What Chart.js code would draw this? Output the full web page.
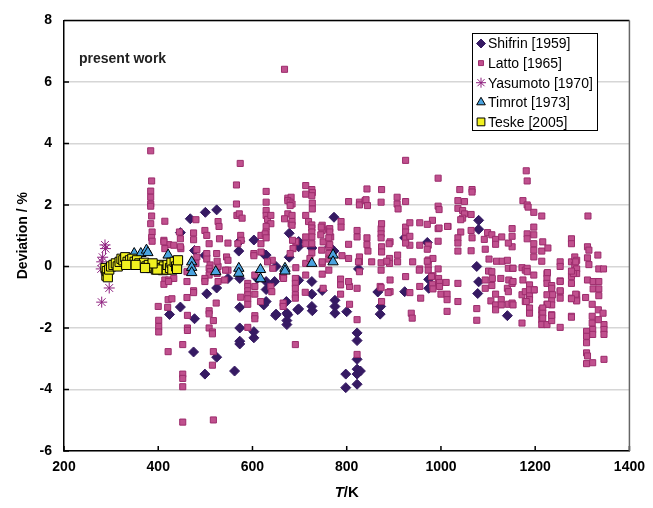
<!DOCTYPE html>
<html>
<head>
<meta charset="utf-8">
<script src="https://cdn.jsdelivr.net/npm/chart.js@4"></script>
<style>
  html, body { margin: 0; padding: 0; background: #fff; }
  #wrap { width: 653px; height: 508px; }
</style>
</head>
<body>
<div id="wrap"><canvas id="devChart"></canvas></div>
<script>
// ====== DATA: [T / K, deviation / %] ======
const shifrin = [
  [447, 1.1], [468, 1.55], [500, 1.76], [524, 1.84], [477, 0.52], [499, 0.36], [571, 0.5], [573, 0.82],
  [603, 0.86], [629, 0.37], [625, 0.39], [548, -0.39], [524, -0.7], [573, -0.39], [610, -0.39], [503, -0.89],
  [447, -1.32], [424, -1.56], [573, -1.33], [477, -1.7], [573, -2.0], [573, -2.43], [573, -2.52], [603, -2.12],
  [603, -2.32], [475, -2.78], [524, -2.95], [499, -3.5], [562, -3.4], [629, -0.49], [629, -0.75],
  [678, 1.08], [698, 0.81], [698, 0.64], [726, 0.6], [764, 0.64], [773, 1.6], [773, 0.5], [678, 0.3],
  [650, 0.0], [825, -0.08], [647, -0.49], [698, -0.45], [726, -0.49], [726, -0.9], [748, -0.78], [672, -1.14],
  [698, -1.38], [726, -1.3], [775, -1.1], [775, -1.3], [775, -1.52], [800, -1.47], [871, -1.55], [866, -0.83],
  [650, -1.55], [675, -1.57], [624, -1.25], [629, -1.14], [649, -1.59], [673, -1.52], [673, -1.76], [673, -1.89],
  [696, -1.41], [727, -1.44], [822, -2.16], [822, -2.41], [822, -3.02], [822, -3.34], [822, -3.5], [822, -3.83],
  [798, -3.5], [798, -3.94], [829, -3.4], [872, -1.3], [923, -0.82], [923, 0.93], [971, 0.78], [974, -0.42],
  [974, -0.71], [1080, 1.5], [1080, 1.21], [1076, 0.0], [1080, -0.5], [1078, -0.88], [1141, -1.6]
];

const latto = [
  [668, 6.41], [384, 3.76], [925, 3.45], [574, 3.35], [994, 2.87], [1181, 3.11], [1183, 2.78], [386, 2.78],
  [566, 2.65], [874, 2.5], [843, 2.52], [1040, 2.5], [1066, 2.5], [1066, 2.42],
  [384, 2.45], [384, 2.25], [384, 2.03], [384, 1.96], [386, 1.64], [384, 1.39], [387, 1.12], [386, 0.94],
  [387, 0.82], [414, 1.47], [412, 0.85], [422, 0.71], [414, 0.58], [433, 0.69], [412, 0.8], [414, -0.44],
  [422, -0.44], [412, -0.58], [433, -0.39], [422, -0.49], [421, -1.08], [429, -1.05], [400, -1.3], [420, -1.33],
  [401, -1.75], [401, -1.95], [401, -2.13], [421, -2.77],
  [445, 1.12], [447, 0.9], [448, 0.58], [447, 0.64], [475, 1.09], [475, 0.87], [480, 1.52], [482, 0.55],
  [482, 0.31], [480, 0.1], [499, 1.17], [503, 1.01], [508, 0.74], [503, 0.42], [503, 0.24], [527, 1.46],
  [529, 1.3], [530, 0.9], [548, 0.76], [524, 0.42], [545, 0.31], [548, 0.2], [548, -0.12], [510, 0.05],
  [508, -0.06], [510, -0.17], [508, -0.28], [461, -0.17], [461, -0.49], [499, -0.39], [499, -0.49], [527, -0.49],
  [527, 0.0], [525, -0.23], [525, 0.17], [543, -0.12], [541, -0.44], [475, -0.79], [461, -1.01], [475, -0.85],
  [462, -1.59], [462, -2.0], [462, -2.08], [508, -1.44], [508, -1.54], [517, -1.76], [508, -2.0], [515, -2.13],
  [515, -2.19], [523, -1.19], [452, -2.54], [517, -2.77], [515, -3.21], [452, -3.5], [452, -3.64], [452, -3.91],
  [452, -5.06], [517, -4.99],
  [566, 2.03], [567, 1.66], [572, 1.71], [578, 1.57], [575, 1.01], [576, 0.85], [569, 0.74], [603, 0.42],
  [605, -0.28], [590, -0.55], [575, -1.0], [590, -0.65], [590, -0.79], [590, -0.92], [590, -1.05], [590, -1.23],
  [605, -0.9], [605, -1.6], [605, -1.7], [590, -1.98], [605, -0.65], [617, -1.14],
  [629, 2.44], [629, 2.09], [629, 1.82], [629, 1.66], [632, 1.53], [639, 1.66], [639, 1.39], [629, 1.3],
  [629, 1.12], [618, 1.01], [618, 0.74], [618, 0.47], [603, 0.35], [642, 0.2], [632, 0.15], [643, -0.06],
  [639, -0.65], [641, -0.82], [664, -0.33], [665, -1.19], [665, -1.3], [627, 1.06], [629, 0.93], [666, -0.28],
  [666, -0.39],
  [675, 2.22], [682, 2.25], [675, 2.14], [680, 2.09], [684, 2.03], [680, 1.98], [675, 1.71], [684, 1.66],
  [668, 1.55], [682, 1.39], [684, 1.46], [684, 1.34], [692, 0.8], [686, 0.58], [685, 0.85], [680, 0.42],
  [692, -0.04], [691, -0.39], [691, -0.55], [691, -0.71], [691, -0.92], [691, -1.03], [691, -2.54],
  [713, 2.63], [726, 2.5], [727, 2.4], [713, 2.35], [726, 2.3], [727, 2.06], [727, 1.87], [713, 1.66],
  [719, 1.46], [726, 1.35], [726, 1.25], [726, 1.12], [726, 0.96], [713, 0.96], [713, 0.74], [726, 0.74],
  [726, 0.44], [748, 1.34], [748, 1.17], [762, 1.21], [766, 0.96], [762, 0.64], [750, 0.8], [747, 0.53],
  [764, 1.23], [764, 1.12], [762, 0.93], [764, 0.71], [788, 1.46], [788, 1.28], [746, 1.28], [745, 1.03],
  [748, 0.1], [790, 0.35], [762, 0.42], [748, 0.15], [762, 0.24], [762, -0.12], [748, -0.25], [787, -0.41],
  [787, -0.6], [787, -0.9], [750, -0.71], [712, -0.84], [713, -0.28], [713, 0.1], [722, 0.26],
  [804, 2.11], [827, 2.09], [827, 2.0], [839, 2.14], [841, 2.17], [844, 1.98], [873, 2.09], [873, 1.23],
  [874, 1.39], [873, 1.06], [873, 0.93], [874, 0.64], [874, 0.47], [873, 0.12], [873, -0.12], [892, 0.8],
  [891, 0.26], [891, 0.1], [890, 0.74], [822, 1.17], [822, 0.96], [843, 0.93], [843, 0.71], [845, 0.5],
  [827, 0.31], [827, 0.15], [827, -0.17], [804, 0.72], [804, 0.26], [825, 0.15], [853, 0.15], [885, 0.17],
  [892, -0.44], [806, -0.65], [806, -1.23], [822, -0.71], [822, -1.73], [822, -2.86], [804, -0.49], [871, -0.65],
  [874, -1.14], [892, -0.82], [873, -0.69], [888, -0.85],
  [907, 2.25], [907, 2.03], [909, 1.87], [925, 2.11], [994, 1.96], [996, 1.85], [925, 1.28], [925, 1.12],
  [934, 1.42], [925, 0.9], [934, 0.69], [925, -0.33], [955, 1.42], [955, 0.69], [955, -0.08], [973, 0.69],
  [973, 0.21], [973, 0.05], [973, -0.12], [982, 1.5], [983, 0.26], [983, -0.3], [994, 1.23], [994, 0.82],
  [994, -0.08], [995, -0.39], [908, 0.37], [908, 0.15], [971, 1.37], [996, 1.25], [1015, 1.3], [925, 0.76],
  [934, 0.98], [971, 0.56], [940, 0.15], [954, -0.12], [980, -0.33], [997, -0.52], [955, -0.65], [957, -1.03],
  [982, -0.58], [983, -0.73], [997, -0.65], [937, -1.52], [939, -1.68], [934, -0.85], [1000, -0.9], [971, 0.17],
  [1036, 2.14], [1050, 2.11], [1036, 1.89], [1046, 1.82], [1050, 1.71], [1046, 1.57], [1042, 1.52], [1064, 1.69],
  [1014, 1.3], [1042, 1.12], [1036, 0.93], [1036, 0.76], [1036, 0.5], [1064, 1.17], [1066, 0.93], [1064, 0.51],
  [1099, 1.1], [1108, 1.03], [1092, 0.88], [1116, 0.88], [1116, 0.72], [1129, 0.96], [1094, 0.56], [1151, 1.23],
  [1151, 0.98], [1151, 0.64], [1143, 0.76], [1102, 0.24], [1118, 0.17], [1130, 0.17], [1141, 0.2], [1101, -0.15],
  [1108, -0.17], [1094, -0.44], [1109, -0.39], [1127, -0.39], [1143, -0.06], [1144, -0.44], [1152, -0.06],
  [1013, -0.9], [1013, -1.08], [1013, -1.46], [1036, -0.55], [1036, -1.14], [1076, -1.37], [1076, -1.75],
  [1094, -0.71], [1108, -0.62], [1116, -0.9], [1106, -1.12], [1116, -1.25], [1116, -1.41], [1128, -1.08],
  [1128, -1.25], [1141, -0.71], [1143, -0.82], [1143, -1.23], [1151, -1.19], [1151, -0.55], [1011, -0.52],
  [1153, -0.49],
  [1174, 2.14], [1183, 2.0], [1185, 1.93], [1197, 1.76], [1214, 1.64], [1312, 1.64], [1183, 1.06], [1183, 0.9],
  [1197, 1.28], [1197, 1.03], [1197, 0.74], [1197, 0.53], [1197, 0.31], [1216, 0.8], [1214, 0.5], [1214, 0.17],
  [1227, 0.6], [1172, -0.04], [1179, -0.12], [1197, -0.28], [1174, -0.44], [1225, -0.23], [1225, -0.39],
  [1225, -0.55], [1235, -0.62], [1253, 0.15], [1253, 0.0], [1253, -0.47], [1277, 0.9], [1277, 0.74], [1277, 0.15],
  [1277, -0.33], [1277, -0.55], [1284, 0.31], [1288, 0.2], [1284, 0.05], [1288, -0.08], [1288, -0.23], [1281, -0.23],
  [1311, 0.64], [1314, 0.53], [1311, 0.28], [1314, 0.06], [1311, -0.44], [1323, -0.49], [1335, -0.49], [1333, 0.37],
  [1335, -0.08], [1345, -0.08],
  [1172, -0.92], [1179, -0.82], [1188, -0.71], [1188, -0.92], [1188, -1.08], [1188, -1.35], [1188, -1.52],
  [1197, -0.76], [1179, -1.14], [1172, -1.84], [1214, -1.41], [1214, -1.57], [1214, -1.73], [1214, -1.89],
  [1225, -1.23], [1225, -1.89], [1235, -0.71], [1235, -0.92], [1235, -1.08], [1235, -1.25], [1235, -1.57],
  [1235, -1.76], [1253, -0.82], [1253, -1.03], [1253, -1.98], [1277, -1.03], [1277, -1.62], [1288, -0.92],
  [1288, -1.08], [1307, -1.01], [1321, -1.23], [1334, -1.41], [1344, -1.52], [1321, -1.62], [1321, -1.84],
  [1322, -2.05], [1322, -2.21], [1309, -2.11], [1309, -2.27], [1309, -2.48], [1346, -1.89], [1346, -2.05],
  [1346, -2.21], [1309, -2.81], [1311, -2.91], [1309, -3.16], [1322, -3.13], [1346, -3.02], [1334, -1.73],
  [1323, -0.73], [1335, -0.73], [1335, -0.95], [1286, -0.9], [1288, -1.12], [1277, -1.05], [1277, -1.65],
  [1253, -0.49], [1253, -0.79], [1226, -0.2], [1225, -0.92], [1237, -0.92], [1226, -1.23], [1235, -1.59],
  [1216, -1.35], [1216, -1.52], [1216, -1.68], [1183, -0.06], [1183, -0.17], [1188, -0.6], [1188, -0.76],
  [1198, -0.76], [1181, -1.14], [1153, -0.06], [1153, -1.25], [1277, -0.15], [1286, 0.15]
];

const yasumoto = [
  [287, 0.7], [288, 0.58], [282, 0.3], [280, 0.15], [279, -0.08], [296, -0.7], [280, -1.16]
];

const timrot = [
  [349, 0.42], [363, 0.42], [375, 0.53], [378, 0.45], [421, 0.37], [471, 0.15], [471, -0.03], [471, -0.2],
  [522, -0.17], [571, -0.06], [571, -0.22], [617, -0.1], [617, -0.4], [669, -0.06], [669, -0.15], [726, 0.1],
  [771, 0.37], [771, 0.15]
];

const teske = [
  [288, -0.05], [290, -0.3], [291, -0.15], [293, -0.35], [296, -0.1], [300, 0.0], [305, 0.05], [310, 0.1],
  [314, 0.0], [318, 0.15], [322, 0.25], [326, 0.2], [330, 0.3], [335, 0.15], [340, 0.2], [345, 0.25],
  [350, 0.15], [355, 0.2], [360, 0.1], [365, 0.05], [370, 0.12], [375, 0.0], [380, 0.05], [385, -0.05],
  [390, 0.0], [395, -0.1], [400, 0.05], [405, -0.05], [410, -0.12], [412, 0.0], [418, -0.1], [420, 0.05],
  [425, -0.05], [428, 0.12], [430, -0.1], [435, 0.15], [438, 0.0], [440, -0.08], [442, 0.2], [398, -0.1],
  [388, 0.1], [372, -0.05], [352, 0.05], [332, 0.05]
];

const tickT = [200, 400, 600, 800, 1000, 1200, 1400];
const tickD = [-6, -4, -2, 0, 2, 4, 6, 8];

const toXY = arr => arr.map(p => ({ x: p[0], y: p[1] }));
const FONT = '"Liberation Sans", Arial, sans-serif';

// ====== PLUGINS ======
const frameAndTicks = {
    id: "frameAndTicks",
    beforeDatasetsDraw(chart) {
        const { ctx, chartArea: a, scales } = chart;
        ctx.save();
        ctx.strokeStyle = "#000";
        ctx.lineWidth = 1.5;
        ctx.beginPath();
        tickT.forEach(v => {
            const px = scales.x.getPixelForValue(v);
            ctx.moveTo(px, a.bottom);
            ctx.lineTo(px, a.bottom - 5);
        });
        tickD.forEach(v => {
            const py = scales.y.getPixelForValue(v);
            ctx.moveTo(a.left, py);
            ctx.lineTo(a.left + 5, py);
        });
        ctx.moveTo(a.left, a.top);
        ctx.lineTo(a.right, a.top);
        ctx.stroke();
        ctx.strokeStyle = "#666";
        ctx.beginPath();
        ctx.moveTo(a.right, a.top);
        ctx.lineTo(a.right, a.bottom);
        ctx.stroke();
        ctx.restore();
    }
};

const annotations = {
    id: "annotations",
    afterDraw(chart) {
        const { ctx, chartArea: a } = chart;
        ctx.save();
        ctx.fillStyle = "#222";
        ctx.textBaseline = "middle";
        ctx.font = "bold 14px " + FONT;
        ctx.fillText("present work", 79, 59);

        // x axis title: T (italic) / K
        ctx.fillStyle = "#000";
        const cx = (a.left + a.right) / 2;
        ctx.font = "italic bold 15px " + FONT;
        const wT = ctx.measureText("T").width;
        ctx.font = "bold 15px " + FONT;
        const wK = ctx.measureText("/K").width;
        let x0 = cx - (wT + wK) / 2;
        ctx.font = "italic bold 15px " + FONT;
        ctx.fillText("T", x0, 493);
        ctx.font = "bold 15px " + FONT;
        ctx.fillText("/K", x0 + wT, 493);

        // legend
        const bx = 472, by = 33, bw = 125, bh = 97;
        ctx.fillStyle = "#fff";
        ctx.fillRect(bx, by, bw, bh);
        ctx.strokeStyle = "#000";
        ctx.lineWidth = 1;
        ctx.strokeRect(bx + 0.5, by + 0.5, bw, bh);
        ctx.font = "14px " + FONT;
        chart.data.datasets.forEach((ds, i) => {
            const y = by + 10.5 + i * 19.6;
            ctx.save();
            ctx.fillStyle = ds.backgroundColor;
            ctx.strokeStyle = ds.borderColor;
            ctx.lineWidth = ds.borderWidth;
            Chart.helpers.drawPoint(ctx, {
                pointStyle: ds.pointStyle,
                radius: ds.legendRadius,
                rotation: 0,
                borderWidth: ds.borderWidth
            }, bx + 9, y);
            ctx.restore();
            ctx.fillStyle = "#000";
            ctx.fillText(ds.label, bx + 16, y + 1);
        });
        ctx.restore();
    }
};

// ====== GRÁFICO ======
document.addEventListener("DOMContentLoaded", () => {
    Chart.defaults.font.family = FONT;

    new Chart(document.getElementById("devChart"), {
        type: "scatter",
        data: {
            datasets: [
                {
                    label: "Shifrin [1959]", data: toXY(shifrin), order: 5,
                    pointStyle: "rectRot", pointRadius: 5, legendRadius: 4.5,
                    backgroundColor: "#361a63", borderColor: "#361a63", borderWidth: 1
                },
                {
                    label: "Latto [1965]", data: toXY(latto), order: 4,
                    pointStyle: "rect", pointRadius: 4.3, legendRadius: 3.5,
                    backgroundColor: "#c0508e", borderColor: "#9c2c6c", borderWidth: 1
                },
                {
                    label: "Yasumoto [1970]", data: toXY(yasumoto), order: 3,
                    pointStyle: "star", pointRadius: 5.5, legendRadius: 5,
                    backgroundColor: "#8e1f7e", borderColor: "#8e1f7e", borderWidth: 1
                },
                {
                    label: "Timrot [1973]", data: toXY(timrot), order: 2,
                    pointStyle: "triangle", pointRadius: 6, legendRadius: 5,
                    backgroundColor: "#4aa3df", borderColor: "#000", borderWidth: 1
                },
                {
                    label: "Teske [2005]", data: toXY(teske), order: 1,
                    pointStyle: "rect", pointRadius: 6.5, legendRadius: 5.5,
                    backgroundColor: "#f0f020", borderColor: "#000", borderWidth: 1
                }
            ]
        },
        options: {
            responsive: true,
            maintainAspectRatio: false,
            animation: false,
            layout: { padding: { top: 17, right: 18.5, left: 0, bottom: 0 } },
            plugins: { legend: { display: false }, tooltip: { enabled: false } },
            scales: {
                x: {
                    type: "linear", min: 200, max: 1400,
                    afterBuildTicks: s => { s.ticks = tickT.map(v => ({ value: v })); },
                    afterFit: s => { s.height = 57; },
                    ticks: {
                        color: "#000", padding: 8, maxRotation: 0,
                        font: { size: 14, weight: "bold" },
                        callback: v => String(v)
                    },
                    grid: { drawOnChartArea: false, drawTicks: false },
                    border: { color: "#000", width: 1.5 }
                },
                y: {
                    type: "linear", min: -6, max: 8,
                    afterBuildTicks: s => { s.ticks = tickD.map(v => ({ value: v })); },
                    afterFit: s => { s.width = 64; },
                    ticks: {
                        color: "#000", padding: 12,
                        font: { size: 14, weight: "bold" },
                        callback: v => String(v)
                    },
                    grid: { color: "#d6d6d6", lineWidth: 1.5, drawTicks: false },
                    border: { color: "#000", width: 1.5 },
                    title: {
                        display: true, text: "Deviation / %", color: "#000",
                        font: { size: 14, weight: "bold" }, padding: { top: 15, bottom: 0 }
                    }
                }
            }
        },
        plugins: [frameAndTicks, annotations]
    });
});
</script>
</body>
</html>
